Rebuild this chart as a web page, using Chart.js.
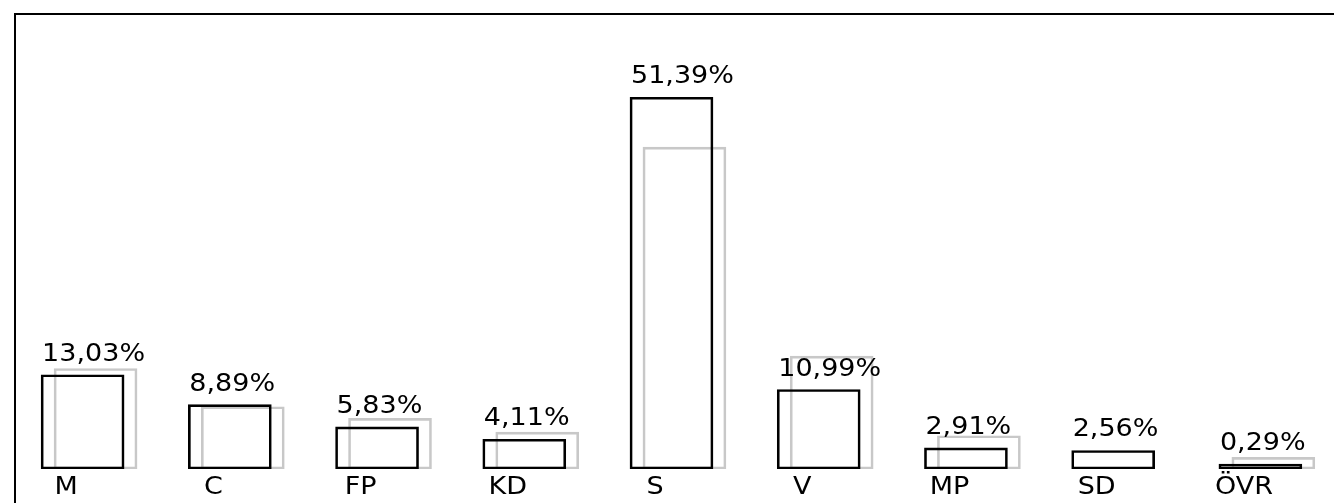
<!DOCTYPE html>
<html>
<head>
<meta charset="utf-8">
<script src="https://cdn.jsdelivr.net/npm/chart.js@4/dist/chart.umd.min.js"></script>
<style>
	html, body { margin: 0; padding: 0; background: #fff; overflow: hidden; }
	#frame {
		position: absolute;
		left: 14px;
		top: 13px;
		width: 2000px;
		height: 2000px;
		border-left: 2px solid #000;
		border-top: 2px solid #000;
	}
	#chart { position: absolute; left: 0; top: 0; }
</style>
</head>
<body>
<div id="frame"></div>
<canvas id="chart" width="1334" height="503"></canvas>
<script>
	// Party labels and vote shares (%), current and previous election
	const categories = ['M', 'C', 'FP', 'KD', 'S', 'V', 'MP', 'SD', 'ÖVR'];
	const currentValues = [13.03, 8.89, 5.83, 4.11, 51.39, 10.99, 2.91, 2.56, 0.29];
	const previousValues = [13.9, 8.6, 7.0, 5.1, 44.5, 15.6, 4.6, null, 1.6];

	// grey (previous) bars sit slightly to the right of the black ones
	const PREV_SHIFT = 0.088;
	const FONT = '25px "DejaVu Sans"';
	const TEXT_STRETCH = 1.08;

	function formatPercent(v) {
		return v.toFixed(2).replace('.', ',') + '%';
	}

	function drawText(ctx, text, x, y, align) {
		ctx.save();
		ctx.translate(x, y);
		ctx.scale(TEXT_STRETCH, 1);
		ctx.textAlign = align;
		ctx.fillText(text, 0, 0);
		ctx.restore();
	}

	/**
	 * Draw value labels above the bars and party names beneath them
	 */
	const labelPlugin = {
		id: 'partyLabels',
		afterDatasetsDraw(chart) {
			const ctx = chart.ctx;
			const meta = chart.getDatasetMeta(0);
			ctx.save();
			ctx.font = FONT;
			ctx.fillStyle = '#000';
			ctx.textBaseline = 'alphabetic';
			meta.data.forEach((bar, i) => {
				const left = bar.x - bar.width / 2;
				drawText(ctx, formatPercent(currentValues[i]), left + 1, bar.y - 14, 'left');
				drawText(ctx, categories[i], left + 25, 494, 'center');
			});
			ctx.restore();
		}
	};

	new Chart(document.getElementById('chart'), {
		type: 'bar',
		data: {
			datasets: [
				{
					label: 'Valresultat',
					data: currentValues.map((v, i) => ({ x: i, y: v })),
					backgroundColor: 'rgba(0,0,0,0)',
					borderColor: '#000',
					borderWidth: 2,
					borderSkipped: false,
					barThickness: 83,
					minBarLength: 5,
					grouped: false
				},
				{
					label: 'Föregående val',
					data: previousValues.map((v, i) => ({ x: i + PREV_SHIFT, y: v })),
					backgroundColor: 'rgba(0,0,0,0)',
					borderColor: '#c8c8c8',
					borderWidth: 2,
					borderSkipped: false,
					barThickness: 83,
					grouped: false
				}
			]
		},
		options: {
			responsive: false,
			animation: false,
			devicePixelRatio: 1,
			layout: {
				padding: { left: 9, right: 0, top: 35, bottom: 34 }
			},
			plugins: {
				legend: { display: false },
				tooltip: { enabled: false }
			},
			scales: {
				x: {
					type: 'linear',
					min: -0.5,
					max: 8.5,
					offset: false,
					display: false
				},
				y: {
					min: 0,
					max: 60,
					display: false
				}
			}
		},
		plugins: [labelPlugin]
	});
</script>
</body>
</html>
